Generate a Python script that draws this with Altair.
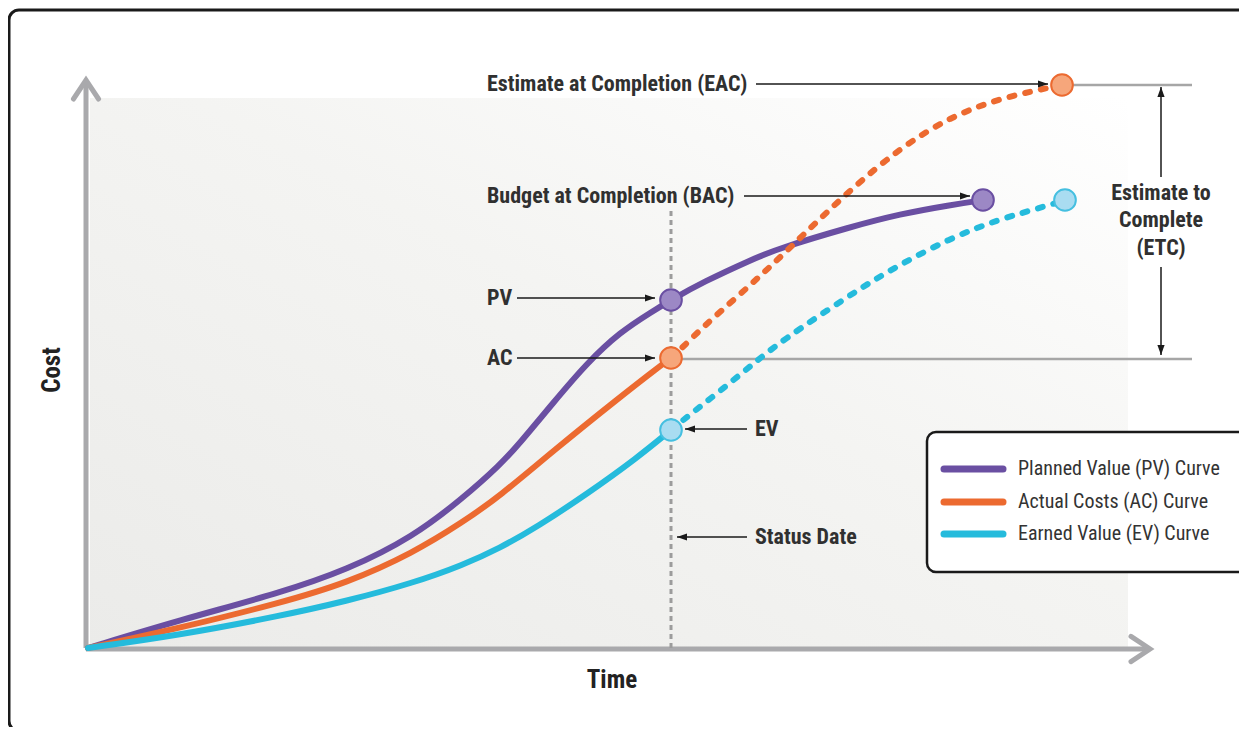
import altair as alt
import pandas as pd

# ---- data (time t, cost c; origin of the axes = 0,0) ----
PV_T = [0, 92, 192, 259, 325, 375, 412, 432, 465, 499, 532, 565, 583, 615, 665, 689, 762, 812, 862, 896]
PV_C = [0, 28, 55, 78, 111, 150, 183, 205, 245, 285, 316, 337, 348, 366, 389, 399, 421, 434, 443, 448]

AC_T = [0, 92, 192, 259, 325, 375, 412, 465, 532, 572, 583]
AC_C = [0, 20, 45, 65, 95, 126, 152, 197, 251, 282, 290]
AC_FT = [583, 595, 615, 649, 682, 712, 762, 812, 862, 912, 974]
AC_FC = [290, 301, 321, 351, 381, 410, 458, 500, 531, 550, 563]

EV_T = [0, 92, 192, 259, 325, 375, 412, 449, 499, 549, 583]
EV_C = [0, 13, 32, 47, 65, 83, 100, 121, 154, 190, 218]
EV_FT = [583, 599, 632, 665, 692, 762, 802, 862, 912, 962, 977]
EV_FC = [218, 231, 257, 284, 306, 353, 378, 410, 429, 443, 448]

SERIES = ["PV", "AC", "EV"]
LINE_COLORS = ["#6a4fa2", "#ec6a30", "#25bbdc"]
LEGEND_LABELS = ["Planned Value (PV) Curve", "Actual Costs (AC) Curve", "Earned Value (EV) Curve"]

MARK_KEYS = ["PV", "AC", "EV", "BAC", "EAC", "EVEND"]
MARK_SERIES = ["PV", "AC", "EV", "PV", "AC", "EV"]
MARK_T = [583, 583, 583, 895, 974, 977]
MARK_C = [348, 290, 218, 448, 563, 448]
MARK_FILL = ["#9c88c5", "#f6a67b", "#a9dcf1"]
MARK_STROKE = ["#6a4fa2", "#ec6a30", "#45bfe0"]

STATUS_T = 583
STATUS_TOP = 438

# annotation arrows: start t, end t (tip), c, tip angle
ARR_T1 = [668, 656, 429, 429, 659, 659]
ARR_T2 = [960, 882, 567, 567, 597, 589]
ARR_C = [564, 452, 350, 290, 219, 111]
ARR_ANG = [0, 0, 0, 0, 180, 180]

LAB_TEXT = ["Estimate at Completion (EAC)", "Budget at Completion (BAC)", "PV", "AC", "EV", "Status Date"]
LAB_T = [399, 399, 399, 399, 667, 667]
LAB_C = [564, 452, 350, 290, 219, 111]

# ETC
ETC_T = 1073
ETC_SEG_C1 = [471, 381]
ETC_SEG_C2 = [561, 293]
ETC_ANG = [270, 90]
ETC_TEXT = ["Estimate to", "Complete", "(ETC)"]
ETC_TEXT_C = [455, 428, 400]

# grey reference lines (EAC, AC)
REF_C = [563, 289]
REF_T1 = [974, 583]
REF_T2 = [1104, 1104]

XS = alt.Scale(domain=[-80, 1151], nice=False, zero=False)
YS = alt.Scale(domain=[-79, 640], nice=False, zero=False)
FONT = "Liberation Sans Narrow, Roboto Condensed, DejaVu Sans Condensed, sans-serif"


def X(f="t"):
    return alt.X(f, type="quantitative", scale=XS, axis=None)


def Y(f="c"):
    return alt.Y(f, type="quantitative", scale=YS, axis=None)


def X2(f):
    return alt.X2(f)


def Y2(f):
    return alt.Y2(f)


color_scale = alt.Scale(domain=SERIES, range=LINE_COLORS)

# frame
frame_df = pd.DataFrame({"t": [-79], "t2": [1190], "c": [638], "c2": [-83]})
frame = alt.Chart(frame_df).mark_rect(
    fill="white", stroke="#1a1a1a", strokeWidth=3, cornerRadius=10
).encode(x=X("t"), x2=X2("t2"), y=Y("c"), y2=Y2("c2"))

# background gradient
bg_df = pd.DataFrame({"t": [2], "t2": [1040], "c": [0], "c2": [550]})
bg = alt.Chart(bg_df).mark_rect(
    color=alt.Gradient(
        gradient="linear",
        stops=[alt.GradientStop(color="#ebebe9", offset=0),
               alt.GradientStop(color="#f4f4f2", offset=0.55),
               alt.GradientStop(color="#ffffff", offset=1)],
        x1=0, y1=1, x2=1, y2=0,
    )
).encode(x=X("t"), x2=X2("t2"), y=Y("c"), y2=Y2("c2"))

# axes
axis_df = pd.DataFrame({"t": [-2, -2], "t2": [-2, 1060], "c": [0, -1], "c2": [566, -1]})
axes = alt.Chart(axis_df).mark_rule(color="#a9a9ac", strokeWidth=5, strokeCap="butt").encode(
    x=X("t"), x2=X2("t2"), y=Y("c"), y2=Y2("c2"))
chev_df = pd.DataFrame({"t": [-2, 1062], "c": [568, -1], "ang": [0, 90]})
chev = alt.Chart(chev_df).mark_point(
    shape="M-0.66,1L0,0L0.66,1", filled=False, stroke="#a9a9ac", strokeWidth=5,
    size=1444, strokeCap="round", strokeJoin="miter", opacity=1
).encode(x=X(), y=Y(), angle=alt.Angle("ang:Q", scale=None))

# status date line
status_df = pd.DataFrame({"t": [STATUS_T], "c": [0], "c2": [STATUS_TOP]})
status = alt.Chart(status_df).mark_rule(color="#9c9c9c", strokeWidth=3, strokeDash=[5, 4]).encode(
    x=X(), y=Y("c"), y2=Y2("c2"))

# reference grey lines
ref_df = pd.DataFrame({"c": REF_C, "t": REF_T1, "t2": REF_T2})
refs = alt.Chart(ref_df).mark_rule(color="#a6a6a6", strokeWidth=2.5).encode(
    x=X("t"), x2=X2("t2"), y=Y("c"))

# curves
solid_rows = []
for t, c in zip(PV_T, PV_C):
    solid_rows.append({"t": t, "c": c, "s": "PV"})
for t, c in zip(AC_T, AC_C):
    solid_rows.append({"t": t, "c": c, "s": "AC"})
for t, c in zip(EV_T, EV_C):
    solid_rows.append({"t": t, "c": c, "s": "EV"})
dash_rows = []
for t, c in zip(AC_FT, AC_FC):
    dash_rows.append({"t": t, "c": c, "s": "AC"})
for t, c in zip(EV_FT, EV_FC):
    dash_rows.append({"t": t, "c": c, "s": "EV"})

solid = alt.Chart(pd.DataFrame(solid_rows)).mark_line(
    strokeWidth=6, interpolate="basis", strokeCap="round"
).encode(x=X(), y=Y(), color=alt.Color("s:N", scale=color_scale, legend=None), detail="s:N")
dashed = alt.Chart(pd.DataFrame(dash_rows)).mark_line(
    strokeWidth=6, interpolate="basis", strokeCap="round", strokeDash=[5, 11]
).encode(x=X(), y=Y(), color=alt.Color("s:N", scale=color_scale, legend=None), detail="s:N")

# markers
mk_df = pd.DataFrame({"k": MARK_KEYS, "s": MARK_SERIES, "t": MARK_T, "c": MARK_C})
markers = alt.Chart(mk_df).mark_point(filled=True, size=470, strokeWidth=2, opacity=1).encode(
    x=X(), y=Y(),
    fill=alt.Fill("s:N", scale=alt.Scale(domain=SERIES, range=MARK_FILL), legend=None),
    stroke=alt.Stroke("s:N", scale=alt.Scale(domain=SERIES, range=MARK_STROKE), legend=None),
)

# annotation arrows
arr_df = pd.DataFrame({"t": ARR_T1, "t2": ARR_T2, "c": ARR_C, "ang": ARR_ANG})
arr_lines = alt.Chart(arr_df).mark_rule(color="#1a1a1a", strokeWidth=1.5).encode(
    x=X("t"), x2=X2("t2"), y=Y("c"))
head_df = pd.DataFrame({
    "t": ARR_T2 + [ETC_T, ETC_T],
    "c": ARR_C + ETC_SEG_C2,
    "ang": ARR_ANG + ETC_ANG,
})
heads = alt.Chart(head_df).mark_point(
    shape="M0,0L-1,-0.36L-1,0.36Z", filled=True, color="#1a1a1a", size=400, opacity=1
).encode(x=X(), y=Y(), angle=alt.Angle("ang:Q", scale=None))

etc_df = pd.DataFrame({"t": [ETC_T, ETC_T], "c": ETC_SEG_C1, "c2": ETC_SEG_C2})
etc_lines = alt.Chart(etc_df).mark_rule(color="#1a1a1a", strokeWidth=1.5).encode(
    x=X(), y=Y("c"), y2=Y2("c2"))

lab_df = pd.DataFrame({"txt": LAB_TEXT, "t": LAB_T, "c": LAB_C})
labels = alt.Chart(lab_df).mark_text(
    align="left", baseline="middle", font=FONT, fontSize=22, fontWeight="bold", color="#303030"
).encode(x=X(), y=Y(), text="txt:N")

etc_txt_df = pd.DataFrame({"txt": ETC_TEXT, "t": [ETC_T] * 3, "c": ETC_TEXT_C})
etc_text = alt.Chart(etc_txt_df).mark_text(
    align="center", baseline="middle", font=FONT, fontSize=22, fontWeight="bold", color="#303030"
).encode(x=X(), y=Y(), text="txt:N")

# axis titles
ttl_df = pd.DataFrame({"txt": ["Time"], "t": [524], "c": [-32]})
time_title = alt.Chart(ttl_df).mark_text(
    align="center", baseline="middle", font=FONT, fontSize=25, fontWeight="bold", color="#222222"
).encode(x=X(), y=Y(), text="txt:N")
cost_df = pd.DataFrame({"txt": ["Cost"], "t": [-36], "c": [278]})
cost_title = alt.Chart(cost_df).mark_text(
    align="center", baseline="middle", font=FONT, fontSize=25, fontWeight="bold", color="#222222",
    angle=270
).encode(x=X(), y=Y(), text="txt:N")

# legend box
leg_box_df = pd.DataFrame({"t": [839], "t2": [1200], "c": [216], "c2": [76]})
leg_box = alt.Chart(leg_box_df).mark_rect(
    fill="white", stroke="#1a1a1a", strokeWidth=2.5, cornerRadius=9
).encode(x=X("t"), x2=X2("t2"), y=Y("c"), y2=Y2("c2"))
leg_c = [179, 146, 114]
leg_df = pd.DataFrame({"s": SERIES, "t": [856] * 3, "t2": [915] * 3, "c": leg_c, "lab": LEGEND_LABELS})
leg_lines = alt.Chart(leg_df).mark_rule(strokeWidth=7, strokeCap="round").encode(
    x=X("t"), x2=X2("t2"), y=Y("c"), color=alt.Color("s:N", scale=color_scale, legend=None))
leg_text = alt.Chart(leg_df.assign(tt=930)).mark_text(
    align="left", baseline="middle", font=FONT, fontSize=20, color="#333333"
).encode(x=X("tt"), y=Y(), text="lab:N")

chart = alt.layer(
    frame, bg, axes, chev, status, refs, solid, dashed, arr_lines, etc_lines, heads,
    markers, labels, etc_text, time_title, cost_title, leg_box, leg_lines, leg_text
).properties(
    width=1231, height=719, padding=0, autosize=alt.AutoSizeParams(type="none")
).configure_view(stroke=None)

chart.save("out.html", embed_options={"renderer": "svg", "actions": False})
